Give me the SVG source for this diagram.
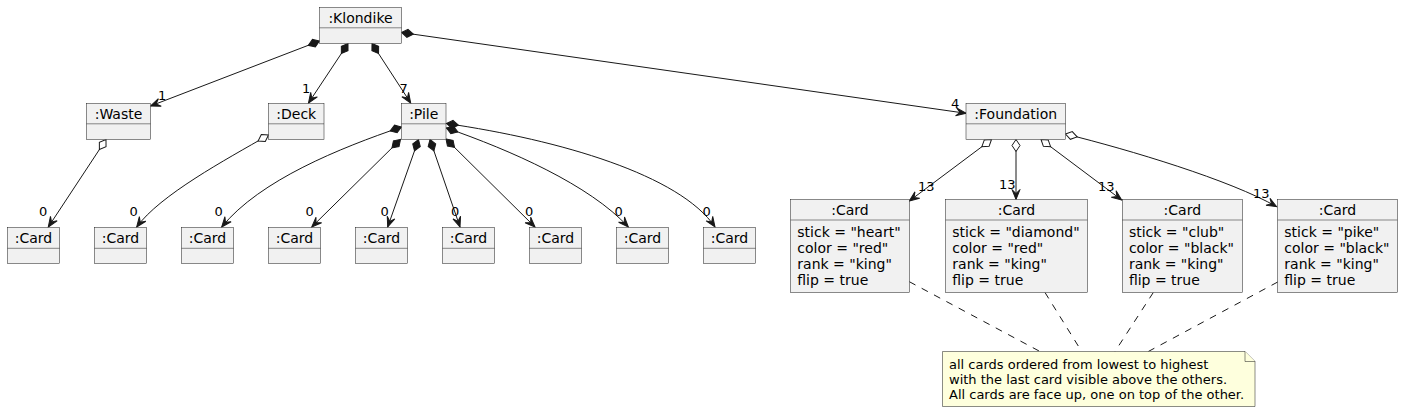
<svg xmlns="http://www.w3.org/2000/svg" width="1403" height="413" viewBox="0 0 1403 413">
<defs>
<style>
.box{fill:#F1F1F1;stroke:#181818;stroke-width:0.5}
.div{stroke:#181818;stroke-width:0.5}
.t{font-family:"DejaVu Sans",sans-serif;font-size:14px;fill:#000}
.c{text-anchor:middle}
.lbl{font-family:"DejaVu Sans",sans-serif;font-size:13px;fill:#000}
.edge{fill:none;stroke:#181818;stroke-width:1}
.arr{marker-end:url(#arr)}
.comp{marker-start:url(#comp)}
.agg{marker-start:url(#agg)}
.dash{stroke-dasharray:7,7}
.note{fill:#FEFFDD;stroke:#181818;stroke-width:0.5}
.nt{font-family:"DejaVu Sans",sans-serif;font-size:13px;fill:#000}
</style>
<marker id="arr" markerUnits="userSpaceOnUse" orient="auto" overflow="visible" markerWidth="12" markerHeight="10" refX="0" refY="0"><path d="M0,0 L-10,-4 L-6,0 L-10,4 Z" fill="#181818" stroke="#181818" stroke-width="1"/></marker>
<marker id="comp" markerUnits="userSpaceOnUse" orient="auto" overflow="visible" markerWidth="14" markerHeight="10" refX="0" refY="0"><path d="M0,0 L6,-4 L12,0 L6,4 Z" fill="#181818" stroke="#181818" stroke-width="1"/></marker>
<marker id="agg" markerUnits="userSpaceOnUse" orient="auto" overflow="visible" markerWidth="14" markerHeight="10" refX="0" refY="0"><path d="M0,0 L6,-4 L12,0 L6,4 Z" fill="#FFFFFF" stroke="#181818" stroke-width="1"/></marker>
</defs>

<g id="connectors">
<path class="edge comp arr" d="M319.5,41 L150.5,106"/>
<path class="edge comp arr" d="M348,43.5 L308.5,103"/>
<path class="edge comp arr" d="M372,43.5 L410.7,103"/>
<path class="edge comp arr" d="M401.5,32.5 L966,113.3"/>
<path class="edge agg arr" d="M106,139.5 L48.3,227"/>
<path class="edge agg arr" d="M268.5,135 C225,160 160,195 136.7,227"/>
<path class="edge comp arr" d="M401.5,127 C340,148 260,180 221.7,227"/>
<path class="edge comp arr" d="M400.5,139.5 L311.7,227"/>
<path class="edge comp arr" d="M418.5,139.5 L387.7,227"/>
<path class="edge comp arr" d="M430,139.5 L460,227"/>
<path class="edge comp arr" d="M446,139 L535,227"/>
<path class="edge comp arr" d="M446.5,128 C510,150 590,185 628.3,227"/>
<path class="edge comp arr" d="M446.5,123.5 C560,140 680,175 715,227"/>
<path class="edge agg arr" d="M991.5,139.5 L909.3,201"/>
<path class="edge agg arr" d="M1016,139.5 L1016,199.5"/>
<path class="edge agg arr" d="M1041,139.5 L1121.7,200"/>
<path class="edge agg arr" d="M1065.5,134 C1130,150 1230,180 1276.7,206.7"/>
<path class="edge dash" d="M909.3,281.7 L1040,351.5"/>
<path class="edge dash" d="M1045,292.5 L1081.7,351.5"/>
<path class="edge dash" d="M1153.3,292.5 L1115,351.5"/>
<path class="edge dash" d="M1277.7,282 L1148.3,351.5"/>
<text class="lbl" x="158" y="100">1</text>
<text class="lbl" x="302" y="93">1</text>
<text class="lbl" x="399.5" y="93">7</text>
<text class="lbl" x="951" y="107.5">4</text>
<text class="lbl" x="39" y="216">0</text>
<text class="lbl" x="129.5" y="216">0</text>
<text class="lbl" x="214.5" y="216">0</text>
<text class="lbl" x="305.5" y="216">0</text>
<text class="lbl" x="380.5" y="216">0</text>
<text class="lbl" x="451" y="216">0</text>
<text class="lbl" x="525" y="216">0</text>
<text class="lbl" x="614.5" y="216">0</text>
<text class="lbl" x="702.5" y="216">0</text>
<text class="lbl" x="918" y="191">13</text>
<text class="lbl" x="999" y="188.5">13</text>
<text class="lbl" x="1098" y="191">13</text>
<text class="lbl" x="1253" y="198">13</text>
</g>

<g id="klondike"><rect class="box" x="319.5" y="7.5" width="82" height="36"/><line class="div" x1="319.5" y1="27.8" x2="401.5" y2="27.8"/><text class="t c" x="360.5" y="22.5">:Klondike</text></g>
<g id="waste"><rect class="box" x="86.5" y="103.5" width="64" height="36"/><line class="div" x1="86.5" y1="123.8" x2="150.5" y2="123.8"/><text class="t c" x="118.5" y="118.5">:Waste</text></g>
<g id="deck"><rect class="box" x="268.5" y="103.5" width="55.5" height="36"/><line class="div" x1="268.5" y1="123.8" x2="324" y2="123.8"/><text class="t c" x="296.25" y="118.5">:Deck</text></g>
<g id="pile"><rect class="box" x="401.5" y="103.5" width="44.5" height="36"/><line class="div" x1="401.5" y1="123.8" x2="446" y2="123.8"/><text class="t c" x="423.75" y="118.5">:Pile</text></g>
<g id="foundation"><rect class="box" x="966" y="103.5" width="99.5" height="36"/><line class="div" x1="966" y1="123.8" x2="1065.5" y2="123.8"/><text class="t c" x="1015.75" y="118.5">:Foundation</text></g>

<g id="card1"><rect class="box" x="7.5" y="227.5" width="52" height="36"/><line class="div" x1="7.5" y1="248.3" x2="59.5" y2="248.3"/><text class="t c" x="33.5" y="242.5">:Card</text></g>
<g id="card2"><rect class="box" x="94.5" y="227.5" width="52" height="36"/><line class="div" x1="94.5" y1="248.3" x2="146.5" y2="248.3"/><text class="t c" x="120.5" y="242.5">:Card</text></g>
<g id="card3"><rect class="box" x="181.5" y="227.5" width="52" height="36"/><line class="div" x1="181.5" y1="248.3" x2="233.5" y2="248.3"/><text class="t c" x="207.5" y="242.5">:Card</text></g>
<g id="card4"><rect class="box" x="268.5" y="227.5" width="52" height="36"/><line class="div" x1="268.5" y1="248.3" x2="320.5" y2="248.3"/><text class="t c" x="294.5" y="242.5">:Card</text></g>
<g id="card5"><rect class="box" x="355.5" y="227.5" width="52" height="36"/><line class="div" x1="355.5" y1="248.3" x2="407.5" y2="248.3"/><text class="t c" x="381.5" y="242.5">:Card</text></g>
<g id="card6"><rect class="box" x="442.5" y="227.5" width="52" height="36"/><line class="div" x1="442.5" y1="248.3" x2="494.5" y2="248.3"/><text class="t c" x="468.5" y="242.5">:Card</text></g>
<g id="card7"><rect class="box" x="529.5" y="227.5" width="52" height="36"/><line class="div" x1="529.5" y1="248.3" x2="581.5" y2="248.3"/><text class="t c" x="555.5" y="242.5">:Card</text></g>
<g id="card8"><rect class="box" x="616.5" y="227.5" width="52" height="36"/><line class="div" x1="616.5" y1="248.3" x2="668.5" y2="248.3"/><text class="t c" x="642.5" y="242.5">:Card</text></g>
<g id="card9"><rect class="box" x="703.5" y="227.5" width="52" height="36"/><line class="div" x1="703.5" y1="248.3" x2="755.5" y2="248.3"/><text class="t c" x="729.5" y="242.5">:Card</text></g>

<g id="cardHeart"><rect class="box" x="790.7" y="199.5" width="118.6" height="93"/><line class="div" x1="790.7" y1="220" x2="909.3" y2="220"/><text class="t c" x="850" y="214.5">:Card</text>
<text class="t" x="797.3" y="236.5">stick = "heart"</text><text class="t" x="797.3" y="252.8">color = "red"</text><text class="t" x="797.3" y="269">rank = "king"</text><text class="t" x="797.3" y="285.3">flip = true</text></g>
<g id="cardDiamond"><rect class="box" x="945.7" y="199.5" width="141.6" height="93"/><line class="div" x1="945.7" y1="220" x2="1087.3" y2="220"/><text class="t c" x="1016.5" y="214.5">:Card</text>
<text class="t" x="952.3" y="236.5">stick = "diamond"</text><text class="t" x="952.3" y="252.8">color = "red"</text><text class="t" x="952.3" y="269">rank = "king"</text><text class="t" x="952.3" y="285.3">flip = true</text></g>
<g id="cardClub"><rect class="box" x="1122.3" y="199.5" width="120" height="93"/><line class="div" x1="1122.3" y1="220" x2="1242.3" y2="220"/><text class="t c" x="1182.3" y="214.5">:Card</text>
<text class="t" x="1128.9" y="236.5">stick = "club"</text><text class="t" x="1128.9" y="252.8">color = "black"</text><text class="t" x="1128.9" y="269">rank = "king"</text><text class="t" x="1128.9" y="285.3">flip = true</text></g>
<g id="cardPike"><rect class="box" x="1277.7" y="199.5" width="119.6" height="93"/><line class="div" x1="1277.7" y1="220" x2="1397.3" y2="220"/><text class="t c" x="1337.5" y="214.5">:Card</text>
<text class="t" x="1284.3" y="236.5">stick = "pike"</text><text class="t" x="1284.3" y="252.8">color = "black"</text><text class="t" x="1284.3" y="269">rank = "king"</text><text class="t" x="1284.3" y="285.3">flip = true</text></g>

<g id="note"><path class="note" d="M942.5,351.5 L1245,351.5 L1255,361.5 L1255,406.5 L942.5,406.5 Z"/><path class="note" d="M1245,351.5 L1245,361.5 L1255,361.5"/>
<text class="nt" x="949" y="369">all cards ordered from lowest to highest</text>
<text class="nt" x="949" y="384">with the last card visible above the others.</text>
<text class="nt" x="949" y="399">All cards are face up, one on top of the other.</text></g>
</svg>
